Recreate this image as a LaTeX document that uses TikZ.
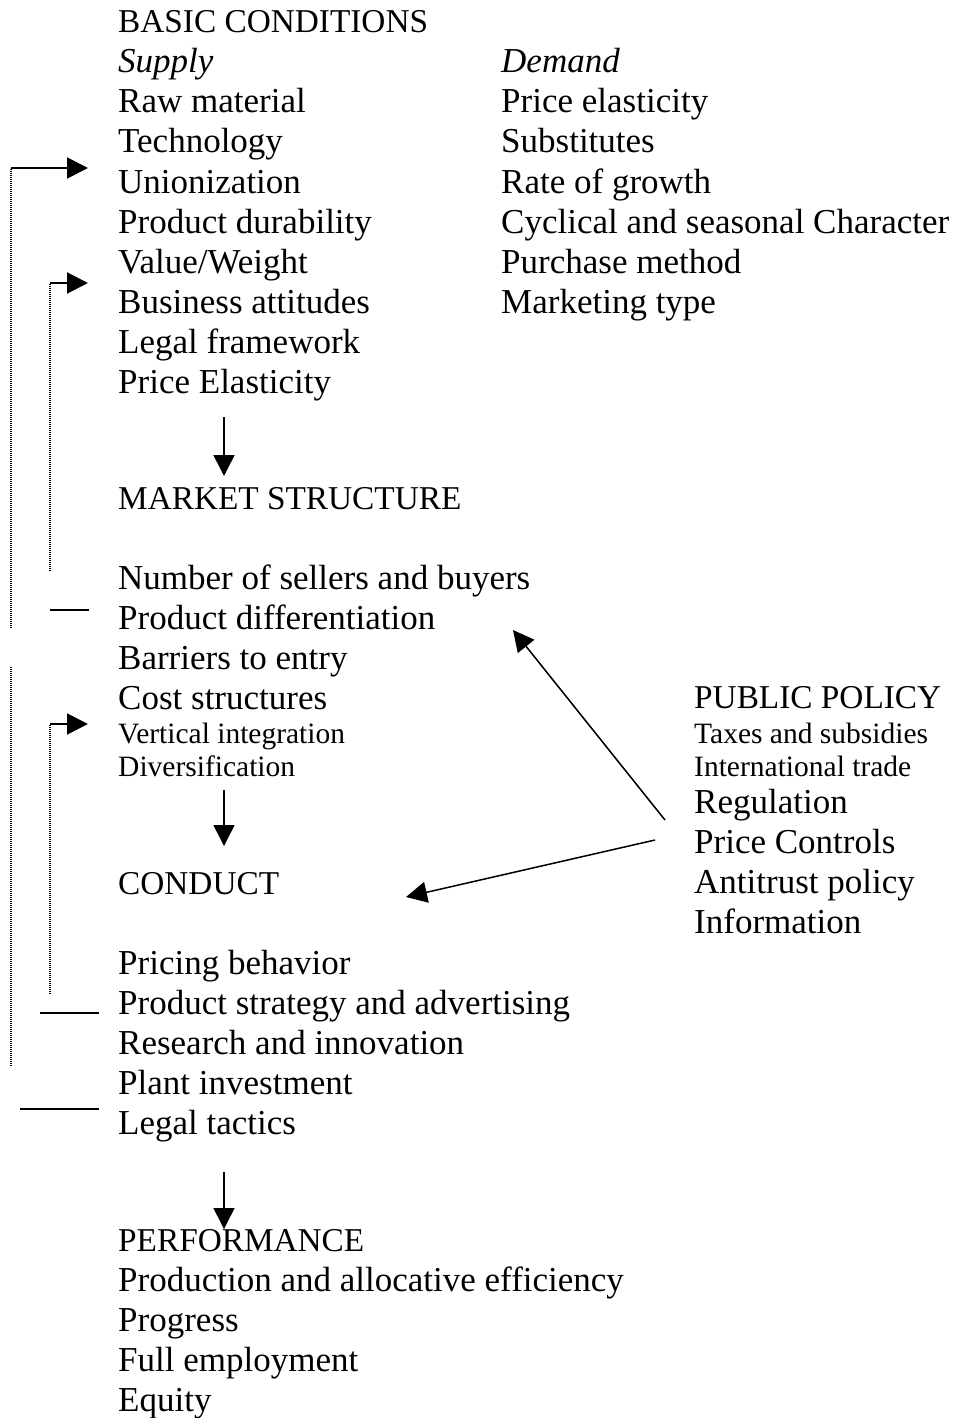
\documentclass[tikz,border=0pt]{standalone}
\usepackage{fontspec}
\setmainfont{Liberation Serif}
\usetikzlibrary{arrows.meta,positioning}

\begin{document}
\begin{tikzpicture}[
    x=1pt, y=-1pt,
    >={Triangle[length=21pt,width=21pt]},
    item/.style={anchor=base west, inner sep=0pt, font=\fontsize{35}{40}\selectfont},
    itemit/.style={item, font=\fontsize{35}{40}\selectfont\itshape},
    head/.style={item, font=\fontsize{33.3}{40}\selectfont},
    small/.style={item, font=\fontsize{29.5}{33}\selectfont},
    flow/.style={->, line width=1.5pt},
    feed/.style={line width=1.2pt, dash pattern=on 1pt off 1pt},
    tie/.style={line width=2pt}
]
\useasboundingbox (0,0) rectangle (955,1418);

% basic conditions
\node[head] (basic) at (118,33) {BASIC CONDITIONS};
\node[itemit] (supply) at (118,73) {Supply};
\node[itemit] (demand) at (501,73) {Demand};
\foreach \t [count=\i] in {Raw material, Technology, Unionization, Product durability,
    Value/Weight, Business attitudes, Legal framework, Price Elasticity}
  \node[item] (sup\i) at (118,73+40*\i) {\t};
\foreach \t [count=\i] in {Price elasticity, Substitutes, Rate of growth,
    Cyclical and seasonal Character, Purchase method, Marketing type}
  \node[item] (dem\i) at (501,73+40*\i) {\t};

% market structure
\node[head] (structure) at (118,509) {MARKET STRUCTURE};
\foreach \t [count=\i] in {Number of sellers and buyers, Product differentiation,
    Barriers to entry, Cost structures}
  \node[item] (str\i) at (118,549+40*\i) {\t};
\node[small] (str5) at (118,743) {Vertical integration};
\node[small] (str6) at (118,776) {Diversification};

% conduct
\node[head] (conduct) at (118,894) {CONDUCT};
\foreach \t [count=\i] in {Pricing behavior, Product strategy and advertising,
    Research and innovation, Plant investment, Legal tactics}
  \node[item] (con\i) at (118,934+40*\i) {\t};

% performance
\node[head] (performance) at (118,1251) {PERFORMANCE};
\foreach \t [count=\i] in {Production and allocative efficiency, Progress,
    Full employment, Equity}
  \node[item] (per\i) at (118,1251+40*\i) {\t};

% public policy
\node[head] (policy) at (694,708) {PUBLIC POLICY};
\node[small] (pol1) at (694,743) {Taxes and subsidies};
\node[small] (pol2) at (694,776) {International trade};
\foreach \t [count=\i] in {Regulation, Price Controls, Antitrust policy, Information}
  \node[item] (pol\the\numexpr\i+2\relax) at (694,773+40*\i) {\t};

% arrow ends
\coordinate (d1a) at (224,417);  \coordinate (d1b) at (224,476);
\coordinate (d2a) at (224,790);  \coordinate (d2b) at (224,846);
\coordinate (d3a) at (224,1172); \coordinate (d3b) at (224,1229);
\coordinate (p1a) at (665,820);  \coordinate (p1b) at (513,630);
\coordinate (p2a) at (655,840);  \coordinate (p2b) at (406,897);

\draw[flow] (d1a) -- (d1b);
\draw[flow] (d2a) -- (d2b);
\draw[flow] (d3a) -- (d3b);
\draw[flow] (p1a) -- (p1b);
\draw[flow] (p2a) -- (p2b);

% feedback lines
\coordinate (f1a) at (11,628);  \coordinate (f1b) at (11,168);  \coordinate (f1c) at (88,168);
\coordinate (f2a) at (50,571);  \coordinate (f2b) at (50,283);  \coordinate (f2c) at (88,283);
\coordinate (f3a) at (50,994);  \coordinate (f3b) at (50,724);  \coordinate (f3c) at (88,724);
\coordinate (f4a) at (11,667);  \coordinate (f4b) at (11,1067);
\coordinate (t1a) at (50,610);  \coordinate (t1b) at (89,610);
\coordinate (t2a) at (40,1013); \coordinate (t2b) at (99,1013);
\coordinate (t3a) at (20,1109); \coordinate (t3b) at (99,1109);

\draw[feed] (f1a) -- (f1b);
\draw[->, tie] (f1b) -- (f1c);
\draw[feed] (f2a) -- (f2b);
\draw[->, tie] (f2b) -- (f2c);
\draw[feed] (f3a) -- (f3b);
\draw[->, tie] (f3b) -- (f3c);
\draw[feed] (f4a) -- (f4b);
\draw[tie] (t1a) -- (t1b);
\draw[tie] (t2a) -- (t2b);
\draw[tie] (t3a) -- (t3b);

\end{tikzpicture}
\end{document}
